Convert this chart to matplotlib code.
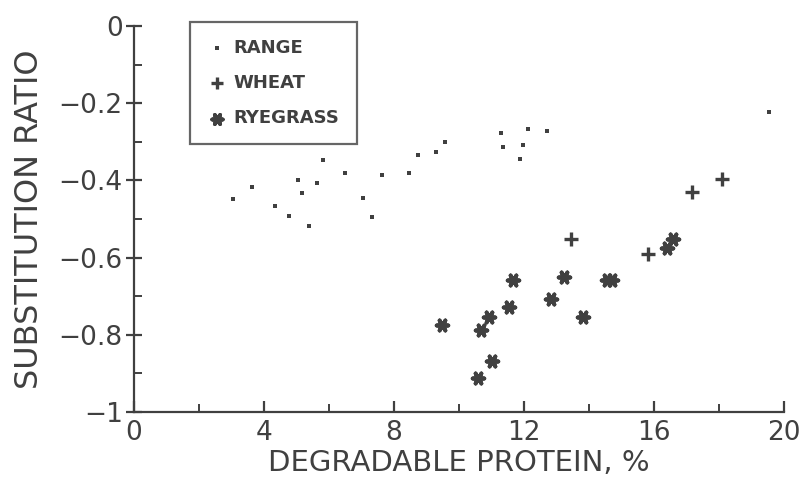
import matplotlib
matplotlib.use("Agg")
import matplotlib.pyplot as plt
from matplotlib.ticker import MultipleLocator, FixedLocator

# ---- data ----
range_x = [3.06, 3.65, 4.34, 4.78, 5.06, 5.17, 5.39, 5.62, 5.81, 6.48, 7.04, 7.33,
           7.64, 8.47, 8.74, 9.29, 9.58, 11.30, 11.35, 11.87, 11.97, 12.13, 12.72, 19.52]
range_y = [-0.447, -0.418, -0.467, -0.493, -0.399, -0.432, -0.519, -0.407, -0.348,
           -0.381, -0.445, -0.496, -0.385, -0.382, -0.335, -0.327, -0.301, -0.278,
           -0.313, -0.345, -0.308, -0.267, -0.273, -0.223]

wheat_x = [13.44, 15.81, 17.16, 18.10]
wheat_y = [-0.553, -0.590, -0.431, -0.397]

rye_x = [9.47, 10.68, 10.93, 10.59, 11.02, 11.55, 11.67, 12.83, 13.23, 13.82,
         14.55, 14.70, 16.39, 16.58]
rye_y = [-0.775, -0.788, -0.753, -0.913, -0.868, -0.727, -0.659, -0.708, -0.650,
         -0.755, -0.658, -0.658, -0.576, -0.552]

x_ticks = [0, 4, 8, 12, 16, 20]
y_ticks = [0, -0.2, -0.4, -0.6, -0.8, -1]
y_tick_labels = ["0", "\u22120.2", "\u22120.4", "\u22120.6", "\u22120.8", "\u22121"]

plt.rcParams["font.family"] = ["DejaVu Sans"]

ink = "#404040"

fig = plt.figure(figsize=(8.01, 4.90), dpi=100)
ax = fig.add_axes([0.167, 0.159, 0.812, 0.788])

ax.scatter(range_x, range_y, marker="s", s=6, color=ink, linewidths=0, label="RANGE")
ax.scatter(wheat_x, wheat_y, marker="+", s=100, color=ink, linewidths=2.4, label="WHEAT")
ax.scatter(rye_x, rye_y, marker=(6, 2, 90), s=70, color=ink, linewidths=2.8, label="RYEGRASS")

ax.set_xlim(0, 20)
ax.set_ylim(-1, 0)
ax.spines["top"].set_visible(False)
ax.spines["right"].set_visible(False)
for s in ("left", "bottom"):
    ax.spines[s].set_color(ink)
    ax.spines[s].set_linewidth(1.6)

ax.xaxis.set_major_locator(FixedLocator(x_ticks))
ax.xaxis.set_minor_locator(MultipleLocator(2))
ax.yaxis.set_major_locator(FixedLocator(y_ticks))
ax.set_yticklabels(y_tick_labels)
ax.yaxis.set_minor_locator(MultipleLocator(0.1))

ax.tick_params(axis="x", which="major", direction="in", length=8, width=1.6, color=ink,
               labelsize=19, labelcolor=ink, pad=6)
ax.tick_params(axis="x", which="minor", direction="in", length=6, width=1.4, color=ink)
ax.tick_params(axis="y", which="major", direction="inout", length=12, width=1.6, color=ink,
               labelsize=19, labelcolor=ink, pad=2)
ax.tick_params(axis="y", which="minor", direction="in", length=6, width=1.4, color=ink)

ax.set_xlabel("DEGRADABLE PROTEIN, %", fontsize=21, color=ink, labelpad=2)
ax.set_ylabel("SUBSTITUTION RATIO", fontsize=23, color=ink, labelpad=10)

leg = ax.legend(loc="upper left", bbox_to_anchor=(0.072, 1.034), frameon=True, fancybox=False,
                edgecolor=ink, prop={"weight": "bold", "size": 13}, labelspacing=0.95,
                handletextpad=0.4, borderpad=0.95, handlelength=1.1, markerscale=0.9)
leg.get_frame().set_linewidth(1.6)
for t in leg.get_texts():
    t.set_color(ink)

fig.savefig("out.png", dpi=100, facecolor="white")
